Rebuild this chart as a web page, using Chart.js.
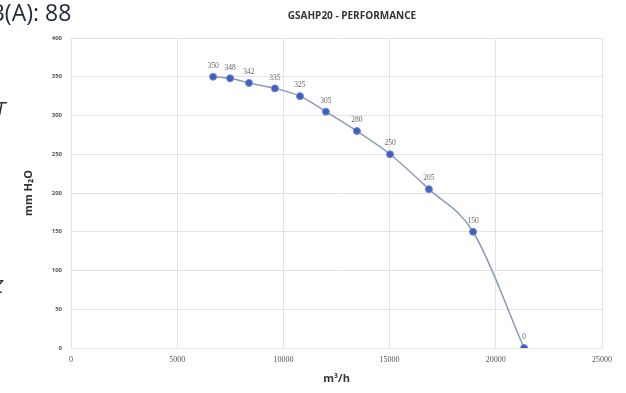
<!DOCTYPE html>
<html lang="en">
<head>
  <meta charset="UTF-8" />
  <title>GSAHP20 - Performance</title>
  <script src="https://cdn.jsdelivr.net/npm/chart.js"></script>
  <style>
    body { margin: 0; padding: 0; background: #fff; overflow: hidden; }
    canvas { display: block; }
  </style>
</head>
<body>
  <canvas id="perfChart" width="626" height="393"></canvas>
  <script>
    // airflow (m3/h) vs pressure (mm H2O)
    const flowValues = [6690, 7490, 8380, 9600, 10780, 12000, 13460, 15020, 16850, 18930, 21330];
    const pressureValues = [350, 348, 342, 335, 325, 305, 280, 250, 205, 150, 0];
    const pointLabels = ['350', '348', '342', '335', '325', '305', '280', '250', '205', '150', '0'];
    const xTicks = [0, 5000, 10000, 15000, 20000, 25000];
    const yTicks = [0, 50, 100, 150, 200, 250, 300, 350, 400];

    const FONT = '"Open Sans", "Liberation Sans", Arial, sans-serif';

    // small value labels above each marker
    const pointLabelPlugin = {
      id: 'pointLabels',
      afterDatasetsDraw(chart) {
        const ctx = chart.ctx;
        const meta = chart.getDatasetMeta(0);
        ctx.save();
        ctx.font = '7.5px "Liberation Serif", serif';
        ctx.fillStyle = '#666';
        ctx.textAlign = 'center';
        ctx.textBaseline = 'bottom';
        meta.data.forEach((pt, i) => {
          ctx.fillText(pointLabels[i], pt.x, pt.y - 7);
        });
        ctx.restore();
      }
    };

    // page header text around the chart (cropped datasheet)
    const headerPlugin = {
      id: 'header',
      afterDraw(chart) {
        const ctx = chart.ctx;
        ctx.save();
        ctx.fillStyle = '#1f2a3c';
        ctx.font = '23px "Open Sans", "Liberation Sans", sans-serif';
        ctx.textBaseline = 'middle';
        ctx.textAlign = 'left';
        ctx.fillText('B(A): 88', -10, 14);
        ctx.fillStyle = '#333';
        ctx.font = 'bold 10px ' + FONT;
        ctx.textAlign = 'center';
        ctx.fillText('GSAHP20 - PERFORMANCE', 352, 16);
        // clipped letters at the left edge
        ctx.font = 'italic 18px "Liberation Sans", sans-serif';
        ctx.textAlign = 'left';
        ctx.fillText('T', -5, 110);
        ctx.fillText('Z', -8, 288);
        ctx.restore();
      }
    };

    new Chart(document.getElementById('perfChart'), {
      type: 'line',
      data: {
        datasets: [{
          data: flowValues.map((x, i) => ({ x: x, y: pressureValues[i] })),
          borderColor: '#8a9bb8',
          borderWidth: 1.5,
          backgroundColor: '#3d5fbf',
          pointBackgroundColor: '#3d5fbf',
          pointBorderColor: '#6f88d6',
          pointBorderWidth: 1,
          pointRadius: 3.5,
          cubicInterpolationMode: 'monotone',
          fill: false
        }]
      },
      options: {
        responsive: false,
        animation: false,
        devicePixelRatio: 1,
        layout: { padding: { top: 38, left: 18, right: 24, bottom: 4 } },
        plugins: {
          legend: { display: false },
          tooltip: { enabled: false },
          title: { display: false }
        },
        scales: {
          x: {
            type: 'linear',
            min: 0,
            max: 25000,
            afterBuildTicks: axis => { axis.ticks = xTicks.map(v => ({ value: v })); },
            afterFit: axis => { axis.height = 41; },
            grid: { color: '#e3e3e3', drawTicks: false },
            border: { display: false },
            ticks: {
              color: '#555',
              padding: 7,
              maxRotation: 0,
              callback: v => String(v),
              font: { family: '"Liberation Serif", serif', size: 8 }
            },
            title: {
              display: true,
              text: 'm³/h',
              color: '#333',
              padding: { top: 4 },
              font: { family: FONT, size: 11, weight: 'bold' }
            }
          },
          y: {
            min: 0,
            max: 400,
            afterBuildTicks: axis => { axis.ticks = yTicks.map(v => ({ value: v })); },
            afterFit: axis => { axis.width = 53; },
            grid: { color: '#e3e3e3', drawTicks: false },
            border: { display: false },
            ticks: {
              color: '#555',
              padding: 9,
              font: { family: FONT, size: 6, weight: 'bold' }
            },
            title: {
              display: true,
              text: 'mm H₂O',
              color: '#333',
              padding: { bottom: 6 },
              font: { family: FONT, size: 11, weight: 'bold' }
            }
          }
        }
      },
      plugins: [pointLabelPlugin, headerPlugin]
    });
  </script>
</body>
</html>
